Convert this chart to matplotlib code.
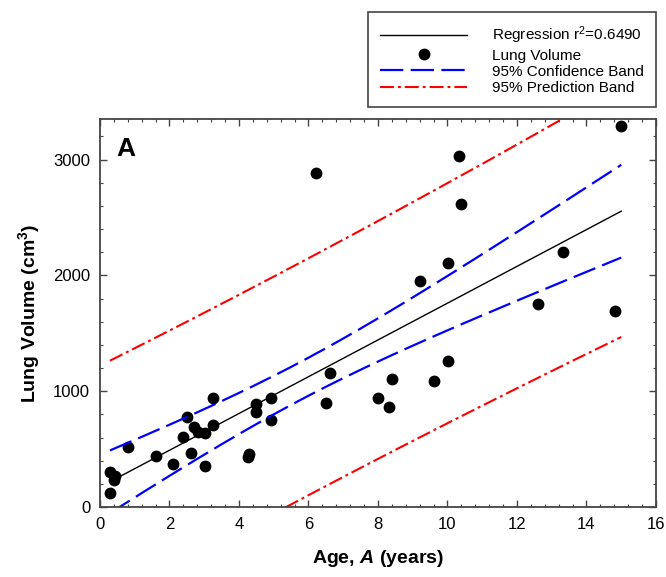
import numpy as np
import matplotlib
matplotlib.use("Agg")
import matplotlib.pyplot as plt
from matplotlib.ticker import MultipleLocator

plt.rcParams["font.family"] = ["Liberation Sans", "DejaVu Sans"]
plt.rcParams["mathtext.fontset"] = "custom"
plt.rcParams["mathtext.rm"] = "Liberation Sans"
plt.rcParams["mathtext.bf"] = "Liberation Sans:bold"
plt.rcParams["mathtext.it"] = "Liberation Sans:italic:bold"

# age (years) and lung volume (cm^3)
age = [0.29, 0.29, 0.43, 0.41, 0.82, 1.61, 2.09, 2.40, 2.52, 2.61,
       2.71, 2.83, 3.01, 3.01, 3.25, 3.25, 4.27, 4.29, 4.49, 4.50,
       4.92, 4.92, 6.51, 6.61, 8.00, 8.31, 8.40, 9.61, 10.01, 12.60,
       14.81, 6.22, 10.33, 10.40, 10.02, 9.22, 13.32, 15.00]
volume = [118, 304, 267, 233, 520, 440, 368, 606, 773, 468,
          687, 644, 641, 353, 707, 937, 434, 457, 888, 822,
          942, 750, 894, 1161, 937, 865, 1103, 1089, 1261, 1756,
          1692, 2882, 3034, 2618, 2106, 1948, 2204, 3287]

x = np.array(age)
y = np.array(volume)
n = len(x)

# least-squares fit with 95% confidence / prediction bands
slope, intercept = np.polyfit(x, y, 1)
resid = y - (intercept + slope * x)
s = np.sqrt(np.sum(resid ** 2) / (n - 2))
t_crit = 2.028  # t(0.975, n-2)
sxx = np.sum((x - x.mean()) ** 2)

xg = np.linspace(x.min(), x.max(), 200)
yg = intercept + slope * xg
se_fit = s * np.sqrt(1.0 / n + (xg - x.mean()) ** 2 / sxx)
se_pred = s * np.sqrt(1.0 + 1.0 / n + (xg - x.mean()) ** 2 / sxx)

fig = plt.figure(figsize=(6.66, 5.77), dpi=100)
ax = fig.add_axes([0.150, 0.1213, 0.835, 0.6725])

ax.plot(xg, yg, color="black", lw=1.0, label=r"Regression r$^{2}$=0.6490")
ax.plot(x, y, "o", color="black", ms=7.5, label="Lung Volume")
ax.plot(xg, yg + t_crit * se_fit, color="blue", lw=1.6, dashes=(10.5, 3.3),
        label="95% Confidence Band")
ax.plot(xg, yg - t_crit * se_fit, color="blue", lw=1.6, dashes=(10.5, 3.3))
ax.plot(xg, yg + t_crit * se_pred, color="red", lw=1.5,
        dashes=(6.7, 1.9, 1.4, 1.9), label="95% Prediction Band")
ax.plot(xg, yg - t_crit * se_pred, color="red", lw=1.5,
        dashes=(6.7, 1.9, 1.4, 1.9))

ax.set_xlim(0, 16)
ax.set_ylim(0, 3350)
ax.xaxis.set_major_locator(MultipleLocator(2))
ax.xaxis.set_minor_locator(MultipleLocator(0.4))
ax.yaxis.set_major_locator(MultipleLocator(1000))
ax.yaxis.set_minor_locator(MultipleLocator(200))
ax.tick_params(which="both", direction="in", top=True, right=True,
               color="#444444", labelsize=12)
ax.tick_params(which="major", length=5, width=1.0, pad=7)
ax.tick_params(which="minor", length=2.5, width=0.8)
for sp in ax.spines.values():
    sp.set_color("#444444")
    sp.set_linewidth(1.3)

ax.set_xlabel(r"Age, $A$ (years)", fontsize=14, fontweight="bold", labelpad=12)
ax.set_ylabel(r"Lung Volume (cm$^{\mathbf{3}}$)", fontsize=14,
              fontweight="bold", labelpad=8)

ax.text(0.029, 0.905, "A", transform=ax.transAxes, fontsize=19,
        fontweight="bold", va="baseline", ha="left")

leg = ax.legend(loc="lower right", bbox_to_anchor=(1.0, 1.03), fontsize=11,
                numpoints=1, handlelength=5.7, handletextpad=1.6,
                borderpad=0.8, labelspacing=0.15, fancybox=False,
                framealpha=1, borderaxespad=0)
leg.get_frame().set_edgecolor("#444444")
leg.get_frame().set_linewidth(1.2)

fig.savefig("out.png", dpi=100)
